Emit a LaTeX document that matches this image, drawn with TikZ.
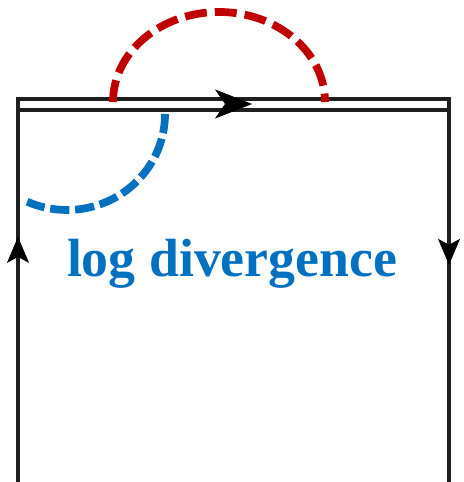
\documentclass[tikz,border=0pt]{standalone}
\usepackage{fontspec}
\setmainfont{Liberation Serif}
\usepackage{xcolor}
\usetikzlibrary{arrows.meta,decorations.markings}

\definecolor{logblue}{HTML}{0070C0}
\definecolor{loopred}{HTML}{C00000}

\begin{document}
\begin{tikzpicture}[x=0.02cm, y=0.02cm,
  wline/.style={line width=2pt, black!88},
  loopd/.style={line width=4.4pt},
  midarr/.style 2 args={decorate, decoration={markings,
      mark=at position #1 with {\arrow{Stealth[#2]}}}}
]
\useasboundingbox (0,0) rectangle (463,482);
% corners of the Wilson line
\coordinate (bl) at (18,0);
\coordinate (tl) at (18,383);
\coordinate (tl2) at (18,372);
\coordinate (tr) at (449,383);
\coordinate (tr2) at (449,372);
\coordinate (br) at (449,0);
\coordinate (ml) at (18,378);
\coordinate (mr) at (449,378);
% lines
\draw[wline] (bl) -- (tl) -- (tr) -- (br);
\draw[wline] (tl2) -- (tr2);
\path[midarr={0.64}{length=0.52cm, width=0.44cm, inset=0.12cm}] (bl) -- (tl);
\path[midarr={0.433}{length=0.52cm, width=0.44cm, inset=0.12cm}] (tr) -- (br);
\path[midarr={0.543}{length=0.74cm, width=0.58cm, inset=0.2cm}] (ml) -- (mr);
% gluon loops
\coordinate (ra) at (113,380);
\coordinate (ba) at (165,368);
\draw[loopd, loopred, dash pattern=on 0.44cm off 0.16cm]
  (ra) arc[start angle=180, end angle=0, x radius=106, y radius=90];
\draw[loopd, logblue, dash pattern=on 0.385cm off 0.115cm]
  (ba) arc[start angle=0, end angle=-114, x radius=98, y radius=96];
% label
\node[anchor=base, text=logblue, font=\fontsize{30.6pt}{34pt}\selectfont\bfseries, inner sep=0pt] (lbl) at (232,205) {log divergence};
\end{tikzpicture}
\end{document}
